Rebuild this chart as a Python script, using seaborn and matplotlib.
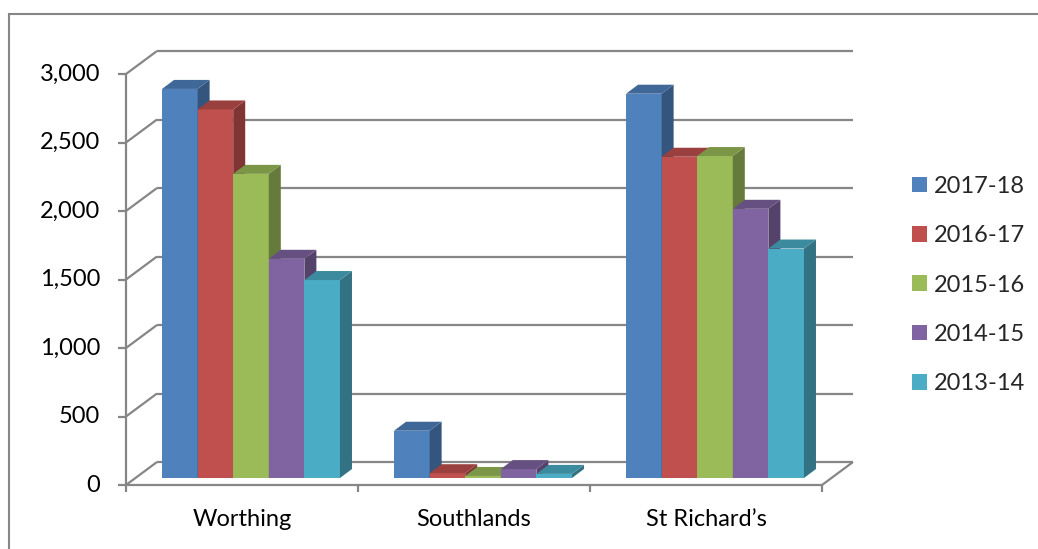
import numpy as np
import pandas as pd
import seaborn as sns
import matplotlib
matplotlib.use("Agg")
import matplotlib.pyplot as plt
from matplotlib.transforms import ScaledTranslation, IdentityTransform
from matplotlib.lines import Line2D
from matplotlib.patches import Polygon, Rectangle, Patch
import matplotlib.colors as mcolors

# ---------------- data ----------------
categories = ["Worthing", "Southlands", "St Richard\u2019s"]
series = ["2017-18", "2016-17", "2015-16", "2014-15", "2013-14"]
v_2017_18 = [2840, 345, 2805]
v_2016_17 = [2690, 35, 2345]
v_2015_16 = [2220, 15, 2350]
v_2014_15 = [1600, 65, 1965]
v_2013_14 = [1445, 30, 1675]
yticks = [0, 500, 1000, 1500, 2000, 2500, 3000]
colors = ["#4F81BD", "#C0504D", "#9BBB59", "#8064A2", "#4BACC6"]

values = [v_2017_18, v_2016_17, v_2015_16, v_2014_15, v_2013_14]
rows = []
for s, vals in zip(series, values):
    for c, v in zip(categories, vals):
        rows.append({"site": c, "year": s, "value": v})
df = pd.DataFrame(rows)

# ---------------- style ----------------
sns.set_theme(style="white")
plt.rcParams['font.family'] = ['Lato', 'DejaVu Sans']
FS = 17

W, H = 1038, 549
DPI = 100
fig = plt.figure(figsize=(W / DPI, H / DPI), dpi=DPI)
fig.patch.set_facecolor("white")
ax = fig.add_axes([135 / W, 1 - 478 / H, (831 - 135) / W, (478 - 67) / H])
ax.patch.set_alpha(0)

sns.barplot(data=df, x="site", y="value", hue="year", order=categories,
            hue_order=series, palette=colors, width=0.767, gap=0,
            saturation=1, errorbar=None, legend=False, linewidth=0, ax=ax)
ax.set_xlim(-0.5, len(categories) - 0.5)
ax.set_ylim(yticks[0], yticks[-1])
ax.set_xticks([])
ax.set_yticks([])
ax.set_xlabel("")
ax.set_ylabel("")
for sp in ax.spines.values():
    sp.set_visible(False)

grid_c = "#868686"
F = np.array([-9.0, -7.0])   # front plane offset (px) relative to bar plane
B = np.array([22.0, 16.0])   # back wall offset
D = np.array([12.0, 9.0])    # bar depth offset
x0, x1 = ax.get_xlim()


def P(x, y, off=(0, 0)):
    return ax.transData.transform((x, y)) + np.asarray(off)


def seg(p, q, z=0.5):
    ln = Line2D([p[0], q[0]], [p[1], q[1]], transform=IdentityTransform(),
                color=grid_c, lw=1.6, zorder=z, solid_capstyle="butt")
    ax.add_artist(ln)
    ln.set_clip_on(False)


# frame: back wall gridlines, side diagonals, front axis, floor
for v in yticks:
    seg(P(x0, v, B), P(x1, v, B))
    seg(P(x0, v, F), P(x0, v, B))
    seg(P(x0, v, F) + np.array([-8, 0]), P(x0, v, F))
seg(P(x0, yticks[0], F), P(x0, yticks[-1], F))
seg(P(x0, 0, F), P(x1, 0, F))
seg(P(x1, 0, F), P(x1, 0, B))
for xb in np.arange(x0, x1 + 0.01, 1.0):
    seg(P(xb, 0, F), P(xb, 0, F) + np.array([0, -7]))


def shade(c, f):
    r, g, b = mcolors.to_rgb(c)
    return (r * f, g * f, b * f)


# 3D bar faces derived from seaborn's bars
bars = sorted([p for p in ax.patches if isinstance(p, Rectangle)],
              key=lambda p: p.get_x())
for k, bar in enumerate(bars):
    z = 2 + k * 0.01
    bar.set_zorder(z)
    fc = bar.get_facecolor()
    bx0, bx1 = bar.get_x(), bar.get_x() + bar.get_width()
    h = bar.get_height()
    top = [P(bx0, h), P(bx1, h), P(bx1, h, D), P(bx0, h, D)]
    side = [P(bx1, 0), P(bx1, h), P(bx1, h, D), P(bx1, 0, D)]
    ps = Polygon(side, closed=True, transform=IdentityTransform(),
                 facecolor=shade(fc, 0.66), edgecolor="none", zorder=z + 0.003)
    pt = Polygon(top, closed=True, transform=IdentityTransform(),
                 facecolor=shade(fc, 0.8), edgecolor="none", zorder=z + 0.006)
    for pp in (ps, pt):
        ax.add_artist(pp)
        pp.set_clip_on(False)

# tick labels as text on the front plane
for v in yticks:
    ax.text(x0, v, f"{v:,}", ha="right", va="center", fontsize=FS, color="black",
            transform=ax.transData + ScaledTranslation((F[0] - 26) / DPI, F[1] / DPI,
                                                       fig.dpi_scale_trans))
for i, c in enumerate(categories):
    ax.text(i, 0, c, ha="center", va="top", fontsize=FS, color="black",
            transform=ax.transData + ScaledTranslation(F[0] / DPI, (F[1] - 24) / DPI,
                                                       fig.dpi_scale_trans))

# legend
handles = [Patch(facecolor=c, edgecolor="none") for c in colors]
fig.legend(handles, series, loc="center left", bbox_to_anchor=(912 / W, 1 - 285 / H),
           bbox_transform=fig.transFigure, frameon=False, fontsize=FS,
           handlelength=15 / (FS * DPI / 72), handleheight=15 / (FS * DPI / 72),
           handletextpad=0.3, labelspacing=1.2, borderpad=0, borderaxespad=0)

# outer chart border
fig.add_artist(Rectangle((9 / W, -0.1), 1.2, 1 - 14 / H + 0.1, transform=fig.transFigure,
                         fill=False, edgecolor=grid_c, lw=1.5))

fig.savefig("out.png", dpi=DPI)
